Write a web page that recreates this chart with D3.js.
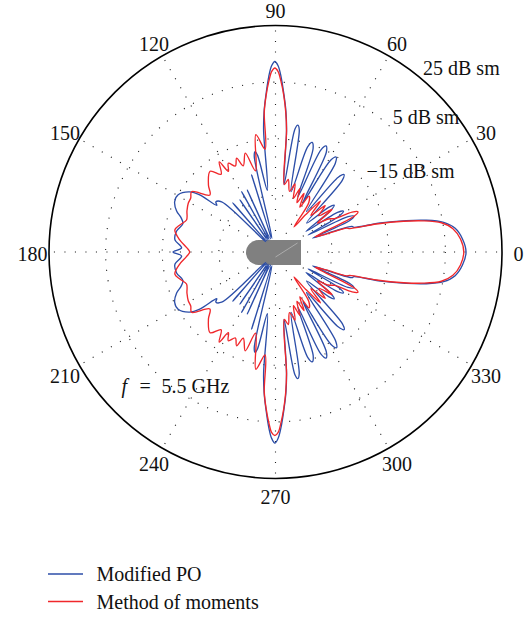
<!DOCTYPE html>
<html>
<head>
<meta charset="utf-8">
<script src="https://cdn.jsdelivr.net/npm/d3@7"></script>
<style>
  body { margin: 0; background: #fff; }
  svg { display: block; }
  text { font-family: "Liberation Serif", "Times New Roman", serif; fill: #111; }
</style>
</head>
<body>
<svg id="chart" width="525" height="617"></svg>
<script>
// Monostatic RCS patterns (dBsm) versus observation angle (degrees, CCW from +x)
const angleTicks = [0, 30, 60, 90, 120, 150, 180, 210, 240, 270, 300, 330];
const ringValues = [-35, -15, 5, 25];
const ringLabelValues = [-15, 5, 25];
const ringLabelTexts = ["\u221215 dB sm", "5 dB sm", "25 dB sm"];
const ringLabelAngles = [39, 47.6, 50.2];
const seriesNames = ["Modified PO", "Method of moments"];

const poAngles = [
  0, 4, 7.5, 10, 12, 13.5, 15.5, 17.5, 18.5, 19.5, 20.5,
  23, 24.5, 26, 27.5, 29.5, 31, 32.5, 34, 37, 38.5, 40, 43,
  47, 48.5, 50, 52.5, 56, 57.5, 59, 61, 63, 64.5, 66, 68, 70, 71.5, 73, 75.5, 79, 80, 81, 82.8,
  84.8, 85.8, 87, 88.2, 89.2, 90.2, 91.2, 92.2, 93.4, 94.6, 95.6, 97.5,
  100.5, 101.5, 102.5, 104.5, 107.2, 110.5, 114.5, 117, 119.3, 121.8, 124.3, 127.5, 131, 133.5,
  137, 140, 141.5, 143, 145, 149.5, 153.5, 157.5, 160, 163, 168, 173, 177.5, 180,
  182.5, 187, 192, 197, 200, 202.5, 206.5, 210.5, 215, 217, 218.5, 220, 223,
  226.5, 229, 232.5, 235.7, 238.2, 240.7, 243, 245.5, 249.5, 252.8, 255.5, 257.5, 258.5, 259.5,
  262.5, 264.4, 265.4, 266.6, 267.8, 268.8, 269.8, 270.8, 271.8, 273, 274.2, 275.2,
  277.2, 279, 280, 281, 284.5, 287, 288.5, 290, 292, 294, 295.5, 297, 299, 301, 302.5, 304, 307.5, 310, 311.5, 313,
  317, 320, 321.5, 323, 326, 327.5, 329, 330.5, 332.5, 334, 335.5, 337,
  339.5, 340.5, 341.5, 342.5, 344.5, 346.5, 348, 350, 352.5, 356
];
const poDb = [
  12.3, 11.2, 9.0, 5.3, -1, -7.5, -16.5, -26, -26.5, -33, -41,
  -26.5, -24.5, -26.5, -42, -29, -27, -29, -42, -30.5, -28.5, -30.5, -40,
  -20.5, -18.5, -20.5, -37, -17.2, -15.2, -17.2, -35, -15.5, -13.5, -15.5, -34, -16.2, -14.2, -16.2, -33, -11, -9.5, -11, -31,
  -12, -5, 1, 7, 10.8, 12.3, 10.8, 7, 1, -5, -12, -33,
  -20.3, -18.8, -20.3, -50, -26.5, -50, -30.9, -50, -30.5, -50, -32.7, -50, -32, -50,
  -29, -27.5, -28.5, -21.5, -18, -15.1, -15.2, -17.2, -19.5, -20.8, -19.3, -19.2, -21.8, -18.8,
  -21.8, -19.2, -19.3, -20.8, -19.5, -17.2, -15.2, -15.1, -18, -21.5, -28.5, -27.5, -29,
  -50, -32, -50, -32.7, -50, -30.5, -50, -30.9, -50, -26.5, -50, -20.3, -18.8, -20.3,
  -33, -12, -5, 1, 7, 10.8, 12.5, 10.8, 7, 1, -5, -12,
  -31, -11.1, -9.6, -11.1, -33, -16.1, -14.1, -16.1, -34, -15.5, -13.5, -15.5, -35, -16.9, -14.9, -16.9, -37, -20.4, -18.4, -20.4,
  -40, -30.5, -28.5, -30.5, -42, -29, -27, -29, -42, -26.5, -24.5, -26.5,
  -41, -33, -26.5, -26, -16.5, -7.5, -1, 5.3, 9.0, 11.2
];

const momAngles = [
  0, 4, 7.5, 10, 12, 13.5, 15.5, 17.5, 18.5, 19.5,
  21, 24.5, 26, 27.5, 29.5, 32, 34.5, 37, 40, 43, 46, 48.5,
  51, 53.5, 56, 59, 61.5, 64, 66.5, 69, 71.5, 74,
  77, 80, 82.5, 84.8, 85.8, 87, 88.2, 89.2, 90.2, 91.2,
  92.2, 93.4, 94.6, 95.8, 99.5, 103.8, 107, 110.5, 112.5, 115,
  118, 120.3, 122, 125, 129, 135, 139, 144.3, 147.5, 150.8,
  155, 160.2, 164, 167.6, 172.8, 177, 180,
  183, 187.2, 192.4, 196, 199.8, 205, 209.2, 212.5, 215.7, 221,
  225, 231, 235, 238, 239.7, 242, 245, 247.5, 249.5, 253,
  256.2, 260.5, 264.2, 265.4, 266.6, 267.8, 268.8, 269.8, 270.8, 271.8,
  273, 274.2, 275.2, 277.5, 280, 283, 286, 288.5, 291, 293.5,
  296, 298.5, 301, 304, 306.5, 309, 311.5, 314, 317, 320,
  323, 325.5, 328, 330.5, 332.5, 334, 335.5, 339, 340.5, 341.5, 342.5, 344.5,
  346.5, 348, 350, 352.5, 356
];
const momDb = [
  11.5, 10.5, 8.2, 4.5, -2, -8.5, -18, -27.5, -28.5, -36,
  -40, -24.5, -22.6, -24.5, -31, -33, -37, -30, -35, -31, -37, -31,
  -38, -44, -34, -32, -37, -32, -36, -31, -35, -30,
  -33, -29, -31, -12, -5.5, 0.5, 5.5, 8.8, 10, 8.8,
  5.5, 0.5, -5.5, -18.5, -13, -25.5, -18.5, -22.5, -19.1, -21.5,
  -19.5, -22, -17.5, -21.5, -18.3, -21.5, -24.3, -18.5, -19.5, -19.7,
  -20.5, -21.6, -20, -18.6, -20.9, -23.5, -24.7,
  -23.5, -20.9, -18.6, -20, -21.6, -20.5, -19.7, -19.5, -18.5, -24.3,
  -21.5, -18.3, -21.5, -17.5, -22, -19.5, -21.5, -19.1, -22.5, -18.5,
  -25.5, -13, -18.5, -5.5, 0.5, 5.5, 8.8, 9.8, 8.8, 5.5,
  0.5, -5.5, -12, -31, -29, -33, -30, -35, -31, -36,
  -32, -37, -32, -34, -44, -38, -31, -37, -31, -35,
  -30, -37, -33, -31, -24.5, -22.6, -24.5, -40, -36, -28.5, -27.5, -18,
  -8.5, -2, 4.5, 8.2, 10.5
];

const svg = d3.select("#chart");
const cx = 275.5, cy = 252, R = 226.5;
const g = svg.append("g").attr("transform", `translate(${cx},${cy})`);

const r = d3.scaleLinear().domain([-55, 25]).range([0, R]).clamp(true);
const toRad = deg => (90 - deg) * Math.PI / 180;   // d3 radial angle: 0 at top, clockwise
const px = (deg, rad) => rad * Math.cos(deg * Math.PI / 180);
const py = (deg, rad) => -rad * Math.sin(deg * Math.PI / 180);

// dotted grid: spokes and inner rings
const gridStyle = sel => sel.attr("fill", "none").attr("stroke", "#222")
  .attr("stroke-width", 1.1).attr("stroke-dasharray", "1.1,9.4");
g.selectAll("line.spoke").data(angleTicks).join("line").attr("class", "spoke")
  .attr("x1", 0).attr("y1", 0)
  .attr("x2", d => px(d, R)).attr("y2", d => py(d, R))
  .call(gridStyle);
g.selectAll("circle.ring").data(ringValues.slice(0, -1)).join("circle").attr("class", "ring")
  .attr("r", d => r(d)).call(gridStyle);

// outer boundary
g.append("circle").attr("r", r(ringValues[ringValues.length - 1]))
  .attr("fill", "none").attr("stroke", "#000").attr("stroke-width", 1.6);

// angle labels
g.selectAll("text.ang").data(angleTicks).join("text").attr("class", "ang")
  .attr("x", d => px(d, R + 16.5)).attr("y", d => py(d, R + 16.5) + 2)
  .attr("text-anchor", "middle").attr("dominant-baseline", "central")
  .attr("font-size", 20).text(d => d);

// ring labels
g.selectAll("text.ringlab").data(ringLabelValues).join("text").attr("class", "ringlab")
  .attr("x", (d, i) => px(ringLabelAngles[i], r(d) + 4))
  .attr("y", (d, i) => py(ringLabelAngles[i], r(d) + 4))
  .attr("font-size", 20).text((d, i) => ringLabelTexts[i]);

// target silhouette at the origin
const body = d3.path();
body.moveTo(25.5, -12);
body.lineTo(-17, -12);
body.arc(-17, 0.5, 12.5, -Math.PI / 2, Math.PI / 2, true);
body.lineTo(25.5, 13);
body.closePath();
g.append("path").attr("d", body.toString()).attr("fill", "#808080");
g.append("line").attr("x1", 0).attr("y1", 5).attr("x2", 22).attr("y2", -9)
  .attr("stroke", "#b8b8b8").attr("stroke-width", 0.8);

// patterns
const line = d3.lineRadial()
  .angle(d => toRad(d[0]))
  .radius(d => r(d[1]))
  .curve(d3.curveCatmullRomClosed.alpha(0.5));

const colors = ["#2c4ea8", "#f0272b"];
const series = [d3.zip(poAngles, poDb), d3.zip(momAngles, momDb)];
series.forEach((pts, i) => {
  g.append("path").datum(pts).attr("d", line)
    .attr("fill", "none").attr("stroke", colors[i])
    .attr("stroke-width", 1.35).attr("stroke-linejoin", "round");
});

// frequency annotation
const ann = svg.append("text").attr("y", 393).attr("font-size", 20);
ann.append("tspan").attr("x", 121.5).attr("font-style", "italic").text("f");
ann.append("tspan").attr("x", 139.5).text("=");
ann.append("tspan").attr("x", 161.5).text("5.5 GHz");

// legend
const leg = svg.append("g").attr("transform", "translate(48,574)");
seriesNames.forEach((name, i) => {
  leg.append("line").attr("x1", 0).attr("x2", 35).attr("y1", i * 27.5).attr("y2", i * 27.5)
    .attr("stroke", colors[i]).attr("stroke-width", 1.5);
  leg.append("text").attr("x", 48.5).attr("y", i * 27.5 + 7).attr("font-size", 20).text(name);
});
</script>
</body>
</html>
